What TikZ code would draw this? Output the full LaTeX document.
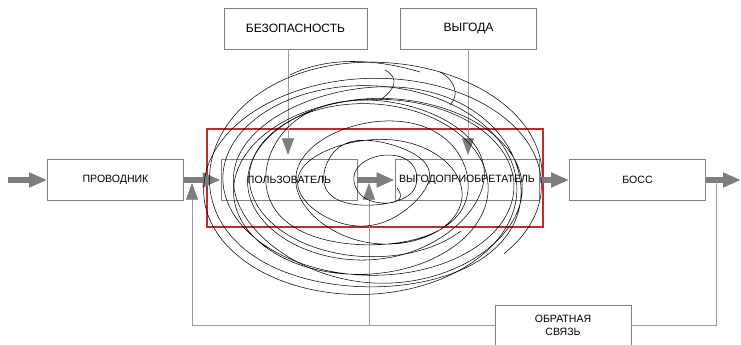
\documentclass[tikz,border=0pt]{standalone}
\usepackage{xcolor}
\usepackage{fontspec}
\setmainfont{Liberation Sans}
\usepackage{tikz}
\usetikzlibrary{arrows.meta}

\definecolor{boxgray}{RGB}{128,128,128}
\definecolor{flowgray}{RGB}{125,125,125}
\definecolor{linegray}{RGB}{155,155,155}
\definecolor{framered}{RGB}{190,45,45}

\begin{document}
\begin{tikzpicture}[x=0.03cm, y=-0.03cm, font=\fontsize{9}{11}\selectfont]
      \tikzstyle{block} = [rectangle, minimum width=4.08cm, minimum height=1.23cm, inner sep=0pt, align=center, draw=boxgray, line width=0.6pt]
      \tikzstyle{topblock} = [block, font=\fontsize{10.3}{12}\selectfont]
      \tikzstyle{frame} = [rectangle, minimum width=10.08cm, minimum height=2.94cm, draw=framered, line width=1.2pt]
      \tikzstyle{flow} = [line width=0.16cm, draw=flowgray, -{Triangle[length=0.54cm, width=0.42cm]}]
      \tikzstyle{feed} = [line width=0.7pt, draw=linegray]
      \tikzstyle{feedarrow} = [feed, -{Triangle[length=0.5cm, width=0.36cm, color=flowgray]}]
      \tikzstyle{scribble} = [line width=0.45pt, black]

      \useasboundingbox (0,0) rectangle (741,345);

      \node (prov) [block] at (115.5,180) {ПРОВОДНИК};
      \node (polz) [block] at (289,180) {ПОЛЬЗОВАТЕЛЬ};
      \node (vygodo) [block, minimum width=4.32cm] at (467,180) {ВЫГОДОПРИОБРЕТАТЕЛЬ};
      \node (boss) [block] at (637.5,180) {БОСС};
      \node (bez) [topblock, minimum width=4.29cm] at (295.5,28.5) {БЕЗОПАСНОСТЬ};
      \node (vyg) [topblock] at (468.5,28.5) {ВЫГОДА};
      \node (obr) [block] at (563,325.5) {ОБРАТНАЯ\\СВЯЗЬ};
      \node (group) [frame] at (375,178) {};

      \coordinate (in) at (8,180);
      \coordinate (out) at (741,180);
      \coordinate (up1) at (192,183);
      \coordinate (up2) at (369,183);
      \coordinate (join) at (716,180);
      \coordinate (drop1) at (288,155);
      \coordinate (drop2) at (468,155);

      \draw [flow] (in) -- (prov.west);
      \draw [flow] (prov.east) -- (polz.west);
      \draw [flow] (polz.east) -- (vygodo.west);
      \draw [flow] (vygodo.east) -- (boss.west);
      \draw [flow] (boss.east) -- (out);

      \draw [feedarrow] (drop1 |- bez.south) -- (drop1);
      \draw [feedarrow] (drop2 |- vyg.south) -- (drop2);

      \draw [feedarrow] (obr.west) -| (up1);
      \draw [feedarrow] (up2 |- obr.west) -- (up2);
      \draw [feed] (obr.east) -| (join);

      \draw [scribble] plot[domain=0:2880, samples=520, smooth]
        ({375 + 8*sin(\x/2.7) + (22 + (\x/2880)*150 + 5*sin(\x*1.7))*cos(\x)},
         {182 + 6*cos(\x/3.3) + (14 + (\x/2880)*102 + 4*cos(\x*1.3))*sin(\x)});
      \draw [scribble] plot[domain=40:1480, samples=260, smooth]
        ({368 + 6*cos(\x/2.1) + (112 + (\x/1480)*58)*cos(\x)},
         {186 - 5*sin(\x/1.9) + (72 + (\x/1480)*40)*sin(\x)});
      \draw [scribble] (290,75) .. controls (330,55) and (380,60) .. (420,72);
      \draw [scribble] (380,100) .. controls (395,90) and (400,78) .. (385,70);
      \draw [scribble] (440,72) .. controls (455,80) and (460,95) .. (450,105);
    \end{tikzpicture}
\end{document}
